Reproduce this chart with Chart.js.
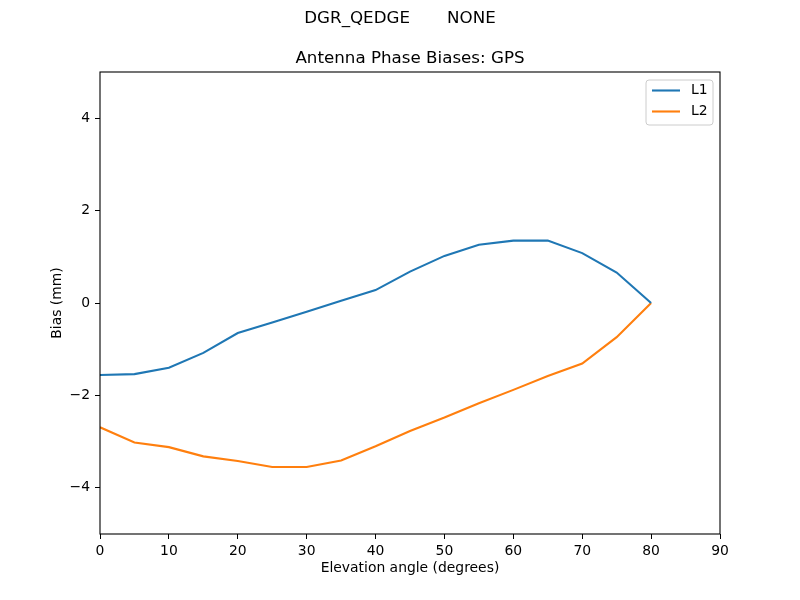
<!DOCTYPE html>
<html>
<head>
<meta charset="utf-8">
<script src="https://cdn.jsdelivr.net/npm/chart.js@4/dist/chart.umd.min.js"></script>
<style>
  html, body { margin: 0; padding: 0; background: #fff; }
  #wrap { width: 800px; height: 600px; position: relative; }
</style>
</head>
<body>
<div id="wrap"><canvas id="c" width="800" height="600"></canvas></div>
<script>
const elevations = [0, 5, 10, 15, 20, 25, 30, 35, 40, 45, 50, 55, 60, 65, 70, 75, 80];
const biasL1 = [-1.56, -1.54, -1.40, -1.08, -0.65, -0.42, -0.19, 0.05, 0.28, 0.68, 1.02, 1.26, 1.35, 1.35, 1.08, 0.66, 0.0];
const biasL2 = [-2.69, -3.02, -3.12, -3.32, -3.42, -3.55, -3.55, -3.41, -3.10, -2.77, -2.48, -2.17, -1.88, -1.58, -1.31, -0.74, 0.0];
const seriesLabels = ['L1', 'L2'];
const seriesColors = ['#1f77b4', '#ff7f0e'];
const xTicks = [0, 10, 20, 30, 40, 50, 60, 70, 80, 90];
const yTicks = [-4, -2, 0, 2, 4];
const supTitle = 'DGR_QEDGE       NONE';
const axTitle = 'Antenna Phase Biases: GPS';
const xLabel = 'Elevation angle (degrees)';
const yLabel = 'Bias (mm)';

const FONT = 'DejaVu Sans';
const fmt = v => (v < 0 ? '\u2212' + Math.abs(v) : String(v));

const series = [biasL1, biasL2];
const datasets = series.map((vals, i) => ({
  label: seriesLabels[i],
  data: elevations.map((e, j) => ({ x: e, y: vals[j] })),
  borderColor: seriesColors[i],
  backgroundColor: seriesColors[i],
  borderWidth: 2.1,
  pointRadius: 0,
  fill: false,
  tension: 0
}));

const framePlugin = {
  id: 'frame',
  afterDraw(chart) {
    const ctx = chart.ctx;
    const a = chart.chartArea;
    ctx.save();
    ctx.strokeStyle = '#000';
    ctx.lineWidth = 1.1;
    ctx.strokeRect(a.left, a.top, a.right - a.left, a.bottom - a.top);
    ctx.fillStyle = '#000';
    ctx.textAlign = 'center';
    ctx.textBaseline = 'middle';
    ctx.font = '16.7px "' + FONT + '"';
    ctx.fillText(supTitle, 400, 18.5);
    ctx.fillText(axTitle, (a.left + a.right) / 2, 58.5);
    const bx = 646, by = 80, bw = 67, bh = 45, r = 3;
    ctx.beginPath();
    ctx.moveTo(bx + r, by);
    ctx.lineTo(bx + bw - r, by);
    ctx.arcTo(bx + bw, by, bx + bw, by + r, r);
    ctx.lineTo(bx + bw, by + bh - r);
    ctx.arcTo(bx + bw, by + bh, bx + bw - r, by + bh, r);
    ctx.lineTo(bx + r, by + bh);
    ctx.arcTo(bx, by + bh, bx, by + bh - r, r);
    ctx.lineTo(bx, by + r);
    ctx.arcTo(bx, by, bx + r, by, r);
    ctx.closePath();
    ctx.fillStyle = 'rgba(255,255,255,0.8)';
    ctx.fill();
    ctx.strokeStyle = '#cccccc';
    ctx.lineWidth = 1;
    ctx.stroke();
    ctx.font = '13.9px "' + FONT + '"';
    ctx.textAlign = 'left';
    chart.data.datasets.forEach((ds, i) => {
      const y = 90.5 + i * 21;
      ctx.strokeStyle = ds.borderColor;
      ctx.lineWidth = 2.1;
      ctx.beginPath();
      ctx.moveTo(652, y);
      ctx.lineTo(680, y);
      ctx.stroke();
      ctx.fillStyle = '#000';
      ctx.fillText(ds.label, 691, y);
    });
    ctx.restore();
  }
};

new Chart(document.getElementById('c'), {
  type: 'line',
  data: { datasets },
  plugins: [framePlugin],
  options: {
    responsive: false,
    animation: false,
    devicePixelRatio: 1,
    layout: { padding: { left: 0, right: 80, top: 72, bottom: 0 } },
    plugins: { legend: { display: false }, title: { display: false }, tooltip: { enabled: false } },
    scales: {
      x: {
        type: 'linear',
        min: 0, max: 90,
        afterBuildTicks: s => { s.ticks = xTicks.map(v => ({ value: v })); },
        afterFit: s => { s.height = 66; },
        grid: { display: true, drawOnChartArea: false, drawTicks: true, tickLength: 5, color: '#000', lineWidth: 1 },
        border: { display: false },
        ticks: { color: '#000', padding: 4, maxRotation: 0, autoSkip: false, font: { family: FONT, size: 13.9 }, callback: v => fmt(v) },
        title: { display: true, text: xLabel, color: '#000', font: { family: FONT, size: 13.9 }, padding: { top: 0, bottom: 23 } }
      },
      y: {
        type: 'linear',
        min: -5, max: 5,
        afterBuildTicks: s => { s.ticks = yTicks.map(v => ({ value: v })); },
        afterFit: s => { s.width = 100; },
        grid: { display: true, drawOnChartArea: false, drawTicks: true, tickLength: 5, color: '#000', lineWidth: 1 },
        border: { display: false },
        ticks: { color: '#000', padding: 5, autoSkip: false, font: { family: FONT, size: 13.9 }, callback: v => fmt(v) },
        title: { display: true, text: yLabel, color: '#000', font: { family: FONT, size: 13.9 }, padding: { top: 49, bottom: 0 } }
      }
    }
  }
});
</script>
</body>
</html>
